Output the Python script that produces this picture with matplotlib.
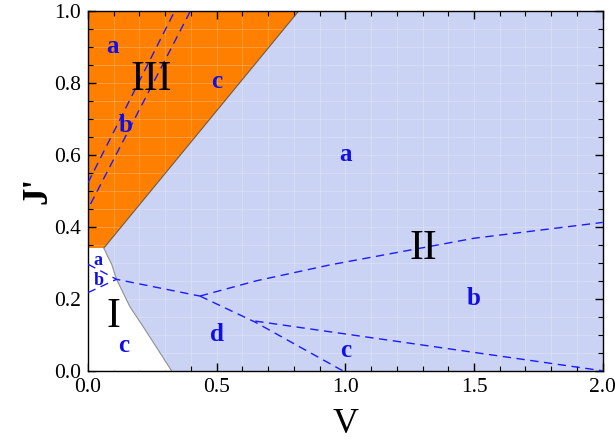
import numpy as np
import matplotlib
matplotlib.use("Agg")
from matplotlib import pyplot as plt
from matplotlib.ticker import MultipleLocator

plt.rcParams['font.family'] = ['Liberation Serif', 'DejaVu Serif']

# phase boundaries
iii_v = [0.0, 0.062, 0.82]          # region III (upper left)
iii_j = [0.341, 0.341, 1.0]
i_v = [0.062, 0.075, 0.092, 0.111, 0.163, 0.215, 0.325]   # region I (lower left)
i_j = [0.341, 0.32, 0.296, 0.254, 0.178, 0.122, 0.0]

# dashed sub-boundaries
dash_lines = [
    ([0.0, 0.338], [0.522, 1.0]),
    ([0.01, 0.399], [0.463, 1.0]),
    ([0.0, 0.111, 0.435], [0.296, 0.254, 0.2075]),
    ([0.0, 0.111], [0.217, 0.254]),
    ([0.435, 0.655, 0.94, 1.5, 2.0], [0.2075, 0.25, 0.294, 0.368, 0.412]),
    ([0.435, 0.65, 0.99], [0.2075, 0.135, 0.0]),
    ([0.65, 2.0], [0.138, 0.0]),
]

# sub-region letters (text, V, J', size)
letters = [
    ('a', 0.097, 0.90, 18), ('b', 0.148, 0.68, 18), ('c', 0.50, 0.803, 18),
    ('a', 1.0, 0.60, 18), ('b', 1.5, 0.20, 18), ('c', 1.0, 0.055, 18),
    ('d', 0.50, 0.10, 18), ('c', 0.14, 0.069, 18),
    ('a', 0.04, 0.305, 13), ('b', 0.04, 0.25, 13),
]
phases = [('III', 0.247, 0.807), ('II', 1.302, 0.34), ('I', 0.098, 0.15)]

fig = plt.figure(figsize=(6.15, 4.43), dpi=100)
ax = fig.add_axes([0.143, 0.163, 0.837, 0.813])
ax.set_xlim(0, 2)
ax.set_ylim(0, 1)

# region II fills everything, then I and III on top
ax.add_patch(plt.Rectangle((0, 0), 2, 1, facecolor='#cbd3f4', edgecolor='none', zorder=0))
ax.fill(iii_v + [0.0], iii_j + [1.0], facecolor='#ff8000', edgecolor='none', zorder=1)

# faint mesh like the original rendering
for gx in np.arange(0.1, 2.0, 0.1):
    ax.axvline(gx, color='white', lw=0.6, alpha=0.25, zorder=1.5)
for gy in np.arange(0.05, 1.0, 0.05):
    ax.axhline(gy, color='white', lw=0.6, alpha=0.25, zorder=1.5)
ax.fill([0.0, 0.0] + i_v, [0.0, i_j[0]] + i_j, facecolor='white', edgecolor='none', zorder=1.6)

ax.plot(iii_v[1:], iii_j[1:], color='#6e5a4a', lw=0.8, zorder=2)
ax.plot(i_v, i_j, color='#909090', lw=0.8, zorder=2)

for xs, ys in dash_lines:
    ax.plot(xs, ys, color='#1a1aff', lw=1.0, ls=(0, (6, 4)), zorder=3)

for t, x, y, s in letters:
    ax.text(x, y, t, color='#1010e6', fontsize=s, fontweight='bold',
            ha='center', va='center', zorder=4)
for t, x, y in phases:
    ax.text(x, y, t, color='black', fontsize=30, ha='center', va='center', zorder=4)

ax.xaxis.set_major_locator(MultipleLocator(0.5))
ax.xaxis.set_minor_locator(MultipleLocator(0.1))
ax.yaxis.set_major_locator(MultipleLocator(0.2))
ax.yaxis.set_minor_locator(MultipleLocator(0.05))
ax.xaxis.set_major_formatter(plt.FuncFormatter(lambda v, p: f'{v:.1f}'))
ax.yaxis.set_major_formatter(plt.FuncFormatter(lambda v, p: f'{v:.1f}'))
ax.tick_params(which='both', direction='in', top=True, right=True, labelsize=15.5, pad=5)
ax.tick_params(which='major', length=6, width=1)
ax.tick_params(which='minor', length=3.5, width=0.8)
for sp in ax.spines.values():
    sp.set_linewidth(1.0)

ax.set_xlabel('V', fontsize=26, labelpad=8)
ax.set_ylabel("J'", fontsize=25, fontweight='bold', labelpad=0)

fig.savefig('out.png', dpi=100)
